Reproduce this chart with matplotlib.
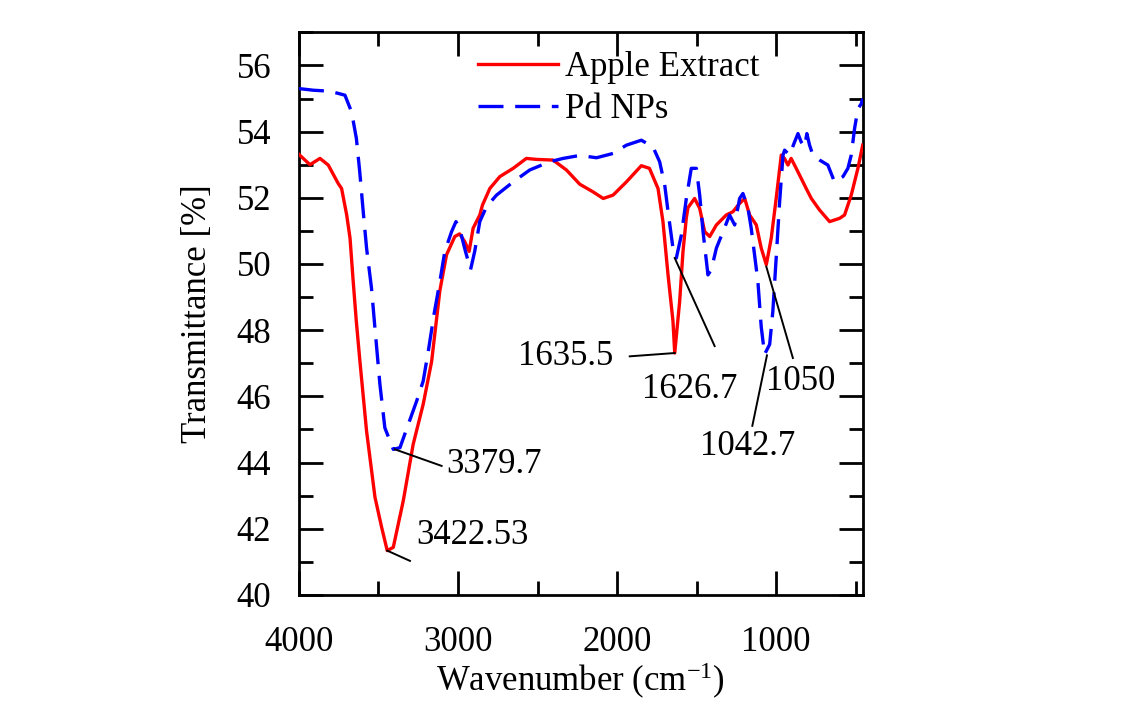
import matplotlib
matplotlib.use("Agg")
import matplotlib.pyplot as plt
from matplotlib.ticker import MultipleLocator

plt.rcParams['font.family'] = ['Liberation Serif', 'DejaVu Serif']
plt.rcParams['mathtext.fontset'] = 'custom'
plt.rcParams['mathtext.rm'] = 'Liberation Serif'
plt.rcParams['mathtext.it'] = 'Liberation Serif:italic'

# ---- data ----
apple_x = [4000, 3931, 3868, 3816, 3753, 3732, 3700, 3679, 3659, 3640, 3617, 3575,
           3522, 3480, 3445, 3407, 3344, 3282, 3219, 3166, 3114, 3072, 3020, 2990,
           2958, 2930, 2905, 2863, 2846, 2800, 2737, 2653, 2570, 2506, 2402, 2318,
           2234, 2151, 2087, 2025, 1941, 1847, 1796, 1742, 1711, 1679, 1648, 1637,
           1606, 1585, 1564, 1554, 1512, 1480, 1449, 1417, 1375, 1313, 1271, 1229,
           1197, 1166, 1124, 1093, 1061, 1030, 999, 967, 947, 925, 905, 873, 842,
           810, 778, 726, 663, 600, 569, 527, 485, 455]
apple_y = [53.31, 53.00, 53.19, 52.99, 52.43, 52.28, 51.48, 50.78, 49.47, 48.30, 47.07, 44.95,
           42.95, 42.04, 41.34, 41.44, 42.85, 44.55, 45.76, 47.05, 49.20, 50.28, 50.83, 50.91,
           50.68, 50.38, 51.08, 51.48, 51.78, 52.28, 52.64, 52.89, 53.19, 53.16, 53.14, 52.84,
           52.41, 52.18, 51.98, 52.08, 52.48, 52.97, 52.89, 52.28, 51.28, 49.67, 48.27, 47.31,
           48.87, 50.38, 51.40, 51.70, 51.98, 51.68, 50.98, 50.83, 51.18, 51.48, 51.58, 51.83,
           51.98, 51.48, 51.18, 50.48, 49.98, 50.78, 51.98, 53.29, 53.19, 52.99, 53.19, 52.89, 52.59,
           52.28, 51.98, 51.63, 51.28, 51.38, 51.48, 52.08, 52.89, 53.59]

pd_x = [4000, 3910, 3805, 3711, 3669, 3639, 3618, 3596, 3575, 3544, 3523, 3491, 3460,
        3407, 3365, 3313, 3260, 3219, 3187, 3150, 3114, 3083, 3040, 3013, 2990, 2953,
        2921, 2895, 2863, 2821, 2758, 2653, 2549, 2423, 2339, 2234, 2129, 2025, 1941,
        1847, 1774, 1732, 1700, 1679, 1648, 1627, 1595, 1564, 1533, 1501, 1480, 1459,
        1428, 1407, 1375, 1333, 1292, 1260, 1229, 1208, 1176, 1156, 1135, 1114, 1093,
        1072, 1040, 1020, 999, 977, 956, 946, 915, 883, 862, 842, 820, 806, 789, 768,
        726, 674, 632, 579, 548, 527, 506, 485, 464, 455]
pd_y = [55.30, 55.25, 55.22, 55.10, 54.59, 53.79, 52.79, 51.58, 50.48, 49.27, 48.10, 46.36, 45.05,
        44.40, 44.45, 45.15, 45.86, 46.46, 47.36, 48.50, 49.47, 50.38, 50.98, 51.28, 51.08, 50.38,
        49.83, 50.38, 51.28, 51.73, 52.08, 52.48, 52.84, 53.09, 53.19, 53.28, 53.21, 53.34, 53.59,
        53.74, 53.54, 53.09, 52.39, 51.58, 50.48, 50.18, 50.88, 51.98, 52.89, 52.89, 52.08, 50.98,
        49.67, 49.83, 50.48, 50.98, 51.48, 51.18, 51.98, 52.13, 51.68, 51.08, 50.28, 49.47, 48.10,
        47.27, 47.57, 48.57, 50.18, 51.90, 53.29, 53.44, 53.29, 53.69, 53.94, 53.69, 53.54, 53.94, 53.59, 53.29,
        53.14, 52.99, 52.48, 52.64, 52.89, 53.29, 54.09, 54.69, 54.84, 55.00]

series_labels = ["Apple Extract", "Pd NPs"]

# peak annotations
peak_labels = ["3422.53", "3379.7", "1635.5", "1626.7", "1050", "1042.7"]

fig = plt.figure(figsize=(11.39, 7.10), dpi=100)
ax = fig.add_axes([0.2625, 0.162, 0.4949, 0.7925])

ax.plot(apple_x, apple_y, color='#ff0000', lw=2.4, label=series_labels[0], zorder=3)
ax.plot(pd_x, pd_y, color='#0000ff', lw=2.4, ls=(0, (7.5, 3.5)), label=series_labels[1], zorder=3)

fs = 25
ann = [
    (peak_labels[0], (3445, 41.34), (3302, 41.03), (3260, 41.79), 'left'),
    (peak_labels[1], (3397, 44.40), (3103, 43.90), (3073, 43.95), 'left'),
    (peak_labels[2], (1637, 47.31), (1920, 47.21), (2025, 47.20), 'right'),
    (peak_labels[3], (1637, 50.18), (1386, 47.52), (1543, 46.21), 'center'),
    (peak_labels[4], (1061, 49.92), (894, 47.16), (847, 46.46), 'center'),
    (peak_labels[5], (1057, 47.24), (1149, 45.11), (1179, 44.50), 'center'),
]
for lab, p0, p1, tp, ha in ann:
    ax.plot([p0[0], p1[0]], [p0[1], p1[1]], color='black', lw=1.4, zorder=4)
    ax.text(tp[0], tp[1], lab, fontsize=fs, ha=ha, va='center')

ax.set_xlim(4000, 455)
ax.set_ylim(40, 57)
ax.xaxis.set_major_locator(MultipleLocator(1000))
ax.xaxis.set_minor_locator(MultipleLocator(500))
ax.yaxis.set_major_locator(MultipleLocator(2))
ax.yaxis.set_minor_locator(MultipleLocator(1))
ax.tick_params(which='both', direction='in', top=True, right=True, width=2.0,
               labelsize=fs)
ax.tick_params(axis='x', pad=22)
ax.tick_params(axis='y', pad=20)
ax.tick_params(which='major', length=17)
ax.tick_params(which='minor', length=10)
for s in ax.spines.values():
    s.set_linewidth(2.0)

ax.set_xlabel('Wavenumber (cm$^{-1}$)', fontsize=fs, labelpad=2)
ax.set_ylabel('Transmittance [%]', fontsize=fs, labelpad=16)

leg = ax.legend(loc='upper left', bbox_to_anchor=(0.318, 0.966), frameon=False,
                fontsize=fs, handlelength=2.3, handletextpad=0.2, labelspacing=0.25,
                borderpad=0, borderaxespad=0)

fig.savefig('out.png', dpi=100, facecolor='white')
